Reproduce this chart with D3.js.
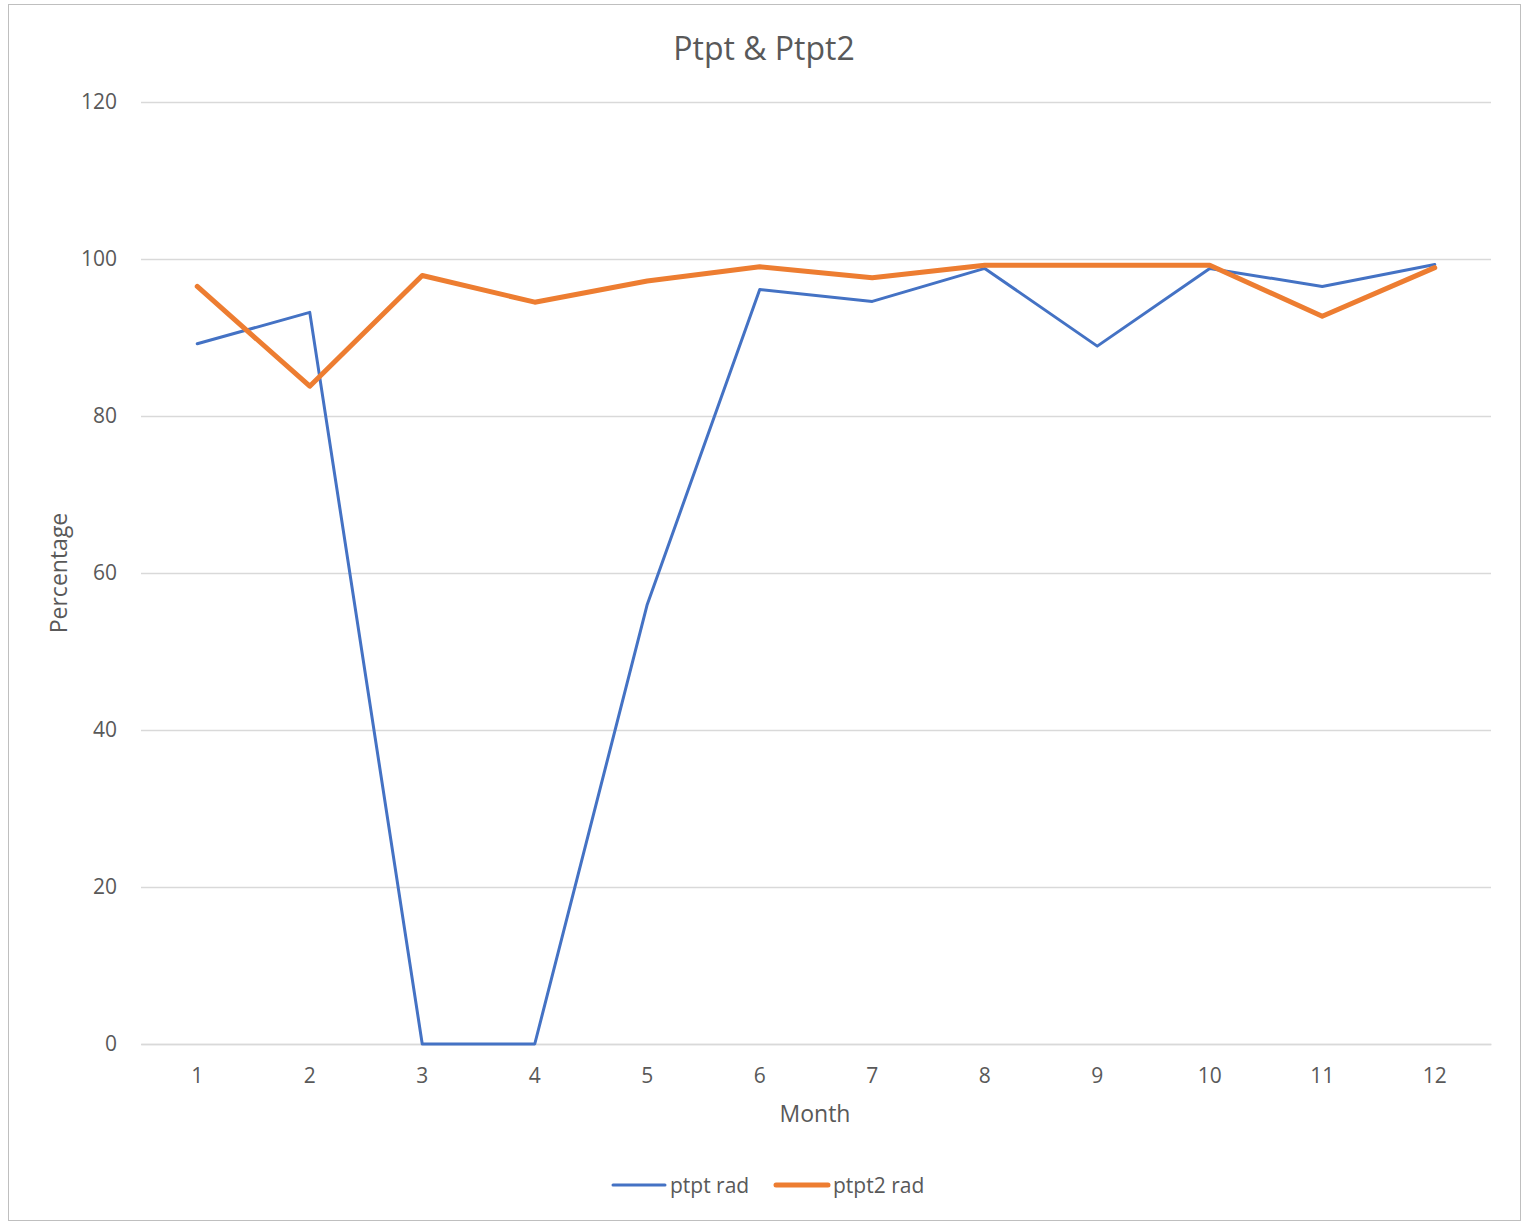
<!DOCTYPE html>
<html><head><meta charset="utf-8">
<script src="https://cdn.jsdelivr.net/npm/d3@7"></script>
<style>body{margin:0;background:#fff}svg{display:block}text{font-family:"Open Sans",sans-serif;fill:#595959}</style>
</head><body><svg id="c" width="1523" height="1223"></svg>
<script>
const months = [1,2,3,4,5,6,7,8,9,10,11,12];
const ptptRad = [89.2,93.2,0,0,56.0,96.1,94.6,98.8,88.9,98.8,96.5,99.3];
const ptpt2Rad = [96.5,83.8,97.9,94.5,97.2,99.0,97.6,99.2,99.2,99.2,92.7,98.9];
const yTicks = [0,20,40,60,80,100,120];
const seriesNames = ["ptpt rad","ptpt2 rad"];
const colors = ["#4472C4","#ED7D31"];
const widths = [3,5];

const svg = d3.select("#c");
svg.append("rect").attr("x",8.5).attr("y",4.5).attr("width",1512).attr("height",1216)
  .attr("fill","#fff").attr("stroke","#bfbfbf").attr("stroke-width",1);

const L=141,R=1491,T=102,B=1044;
const x = d3.scaleBand().domain(months).range([L,R]);
const y = d3.scaleLinear().domain([0,120]).range([B,T]);

const gy = svg.append("g").attr("transform",`translate(${L},0)`)
  .call(d3.axisLeft(y).tickValues(yTicks).tickSize(-(R-L)).tickPadding(24));
gy.select(".domain").remove();
gy.selectAll(".tick line").attr("stroke","#d9d9d9").attr("stroke-width",1.3);
gy.selectAll(".tick text").attr("font-size",21).attr("fill","#595959").style("font-family","Open Sans");

const gx = svg.append("g").attr("transform",`translate(0,${B})`)
  .call(d3.axisBottom(x).tickSize(0).tickPadding(24));
gx.select(".domain").attr("stroke","#d9d9d9").attr("stroke-width",1.3);
gx.selectAll(".tick text").attr("font-size",21).attr("fill","#595959").style("font-family","Open Sans");

const line = d3.line().x((d,i)=>x(months[i])+x.bandwidth()/2).y(d=>y(d));
[ptptRad,ptpt2Rad].forEach((s,k)=>{
  svg.append("path").datum(s).attr("d",line).attr("fill","none")
    .attr("stroke",colors[k]).attr("stroke-width",widths[k])
    .attr("stroke-linejoin","round").attr("stroke-linecap","round");
});

svg.append("text").attr("x",764).attr("y",60).attr("text-anchor","middle").attr("font-size",32).text("Ptpt & Ptpt2");
svg.append("text").attr("transform","translate(67,573) rotate(-90)").attr("text-anchor","middle").attr("font-size",23).text("Percentage");
svg.append("text").attr("x",815).attr("y",1122).attr("text-anchor","middle").attr("font-size",23).text("Month");

const legX=[613,776];
seriesNames.forEach((n,k)=>{
  svg.append("line").attr("x1",legX[k]).attr("x2",legX[k]+52).attr("y1",1185).attr("y2",1185)
    .attr("stroke",colors[k]).attr("stroke-width",widths[k]).attr("stroke-linecap","round");
  svg.append("text").attr("x",legX[k]+57).attr("y",1193).attr("font-size",21).text(n);
});
</script></body></html>
